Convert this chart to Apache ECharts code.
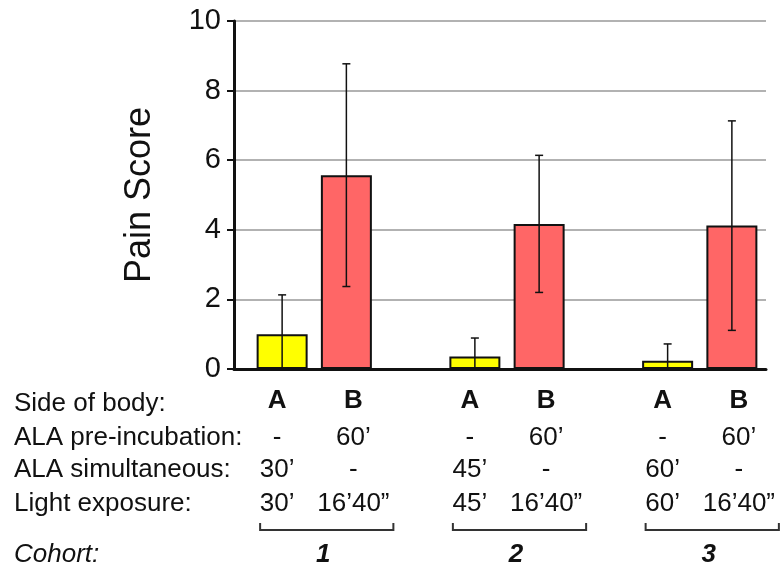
<!DOCTYPE html>
<html>
<head>
<meta charset="utf-8">
<script src="https://cdn.jsdelivr.net/npm/echarts@6/dist/echarts.min.js"></script>
<style>
  html, body { margin: 0; padding: 0; background: #fff; }
  #chart { width: 783px; height: 572px; }
</style>
</head>
<body>
<div id="chart"></div>
<script>
  // slots: A/B per cohort, empty slot between cohorts
  const sides = ['A', 'B', '', 'A', 'B', '', 'A', 'B'];
  const means = [1.0, 5.57, null, 0.36, 4.17, null, 0.24, 4.12];
  const sds = [1.13, 3.2, null, 0.53, 1.97, null, 0.48, 3.01];
  const preIncubation = ['-', '60’', '', '-', '60’', '', '-', '60’'];
  const simultaneous = ['30’', '-', '', '45’', '-', '', '60’', '-'];
  const lightExposure = ['30’', '16’40”', '', '45’', '16’40”', '', '60’', '16’40”'];
  const cohorts = ['1', '2', '3'];
  const cohortSlots = [[0, 1], [3, 4], [6, 7]];
  const rowTitles = ['Side of body:', 'ALA pre-incubation:', 'ALA simultaneous:', 'Light exposure:'];
  const yMax = 10;
  const yStep = 2;

  const FONT = 'Liberation Sans, Arial, sans-serif';
  const INK = '#111';

  let myChart = echarts.init(document.getElementById('chart'));

  let barData = means.map(function (v, i) {
    if (v == null) return '-';
    return {
      value: v,
      itemStyle: { color: sides[i] === 'A' ? '#ffff00' : '#ff6666' }
    };
  });

  let errData = [];
  means.forEach(function (m, i) {
    if (m == null) return;
    errData.push([i, m - sds[i], m + sds[i]]);
  });

  let tableData = [];
  sides.forEach(function (s, i) {
    if (s !== '') tableData.push([i, 0]);
  });

  let rowMid = [404, 438, 470, 504];
  let graphics = rowTitles.map(function (t, k) {
    return {
      type: 'text', x: 14, y: rowMid[k],
      style: { text: t, font: '26px ' + FONT, fill: INK, verticalAlign: 'middle' }
    };
  });
  graphics.push({
    type: 'text', x: 14, y: 555,
    style: { text: 'Cohort:', font: 'italic 26px ' + FONT, fill: INK, verticalAlign: 'middle' }
  });

  let option = {
    animation: false,
    backgroundColor: '#fff',
    grid: [
      { left: 234, right: 17, top: 21, bottom: 203 },
      { left: 250, right: 19, top: 21, bottom: 203 }
    ],
    xAxis: [
      {
        gridIndex: 0, type: 'value', min: 0, max: 1,
        axisLine: { show: true, lineStyle: { color: INK, width: 3 } },
        axisTick: { show: false }, axisLabel: { show: false }, splitLine: { show: false }
      },
      { gridIndex: 1, type: 'category', data: sides, show: false }
    ],
    yAxis: [
      {
        gridIndex: 0, type: 'value', min: 0, max: yMax, interval: yStep,
        name: 'Pain Score', nameLocation: 'middle', nameGap: 76, nameRotate: 90,
        nameTextStyle: { fontSize: 36, color: INK, fontFamily: FONT },
        axisLine: { show: true, lineStyle: { color: INK, width: 3 } },
        axisTick: { show: true, length: 7, lineStyle: { color: INK, width: 2 } },
        axisLabel: { fontSize: 29, color: INK, fontFamily: FONT, margin: 13 },
        splitLine: { show: true, lineStyle: { color: '#999', width: 1.5 } }
      },
      { gridIndex: 1, type: 'value', min: 0, max: yMax, show: false }
    ],
    graphic: graphics,
    series: [
      {
        type: 'bar', xAxisIndex: 1, yAxisIndex: 1,
        data: barData, barWidth: 51,
        itemStyle: { borderColor: INK, borderWidth: 2 }
      },
      {
        type: 'custom', xAxisIndex: 1, yAxisIndex: 1,
        data: errData,
        renderItem: function (params, api) {
          let i = api.value(0);
          let lo = api.value(1), hi = api.value(2);
          let top = api.coord([i, hi]);
          let bot = api.coord([i, Math.max(lo, 0)]);
          let cap = 4;
          let st = { stroke: INK, lineWidth: 1.5 };
          let kids = [
            { type: 'line', shape: { x1: top[0], y1: top[1], x2: bot[0], y2: bot[1] }, style: st },
            { type: 'line', shape: { x1: top[0] - cap, y1: top[1], x2: top[0] + cap, y2: top[1] }, style: st }
          ];
          if (lo > 0) {
            kids.push({ type: 'line', shape: { x1: bot[0] - cap, y1: bot[1], x2: bot[0] + cap, y2: bot[1] }, style: st });
          }
          return { type: 'group', children: kids };
        },
        z: 5
      },
      {
        // table of conditions under each bar
        type: 'custom', xAxisIndex: 1, yAxisIndex: 1,
        data: tableData,
        renderItem: function (params, api) {
          let i = api.value(0);
          let p = api.coord([i, 0]);
          let x = p[0] + (sides[i] === 'A' ? -5 : 7);
          let y0 = p[1];
          let rows = [preIncubation[i], simultaneous[i], lightExposure[i]];
          let kids = [{
            type: 'text', x: x, y: y0 + 32,
            style: { text: sides[i], font: 'bold 26px ' + FONT, fill: INK, align: 'center', verticalAlign: 'middle' }
          }];
          rows.forEach(function (t, k) {
            kids.push({
              type: 'text', x: x, y: y0 + [69, 101, 135][k],
              style: { text: t, font: '26px ' + FONT, fill: INK, align: 'center', verticalAlign: 'middle' }
            });
          });
          return { type: 'group', children: kids };
        }
      },
      {
        // cohort brackets
        type: 'custom', xAxisIndex: 1, yAxisIndex: 1,
        data: cohortSlots.map(function (s, g) { return [s[0], s[1], g]; }),
        renderItem: function (params, api) {
          let a = api.coord([api.value(0), 0]);
          let b = api.coord([api.value(1), 0]);
          let g = api.value(2);
          let x1 = a[0] - 22, x2 = b[0] + 47;
          let yb = a[1] + 161;
          let st = { stroke: '#333', lineWidth: 2, fill: null };
          return {
            type: 'group',
            children: [
              { type: 'polyline', shape: { points: [[x1, yb - 7], [x1, yb], [x2, yb], [x2, yb - 7]] }, style: st },
              {
                type: 'text', x: (a[0] + b[0]) / 2 + 9, y: a[1] + 186,
                style: { text: cohorts[g], font: 'italic bold 26px ' + FONT, fill: INK, align: 'center', verticalAlign: 'middle' }
              }
            ]
          };
        }
      }
    ]
  };
  myChart.setOption(option);
</script>
</body>
</html>
